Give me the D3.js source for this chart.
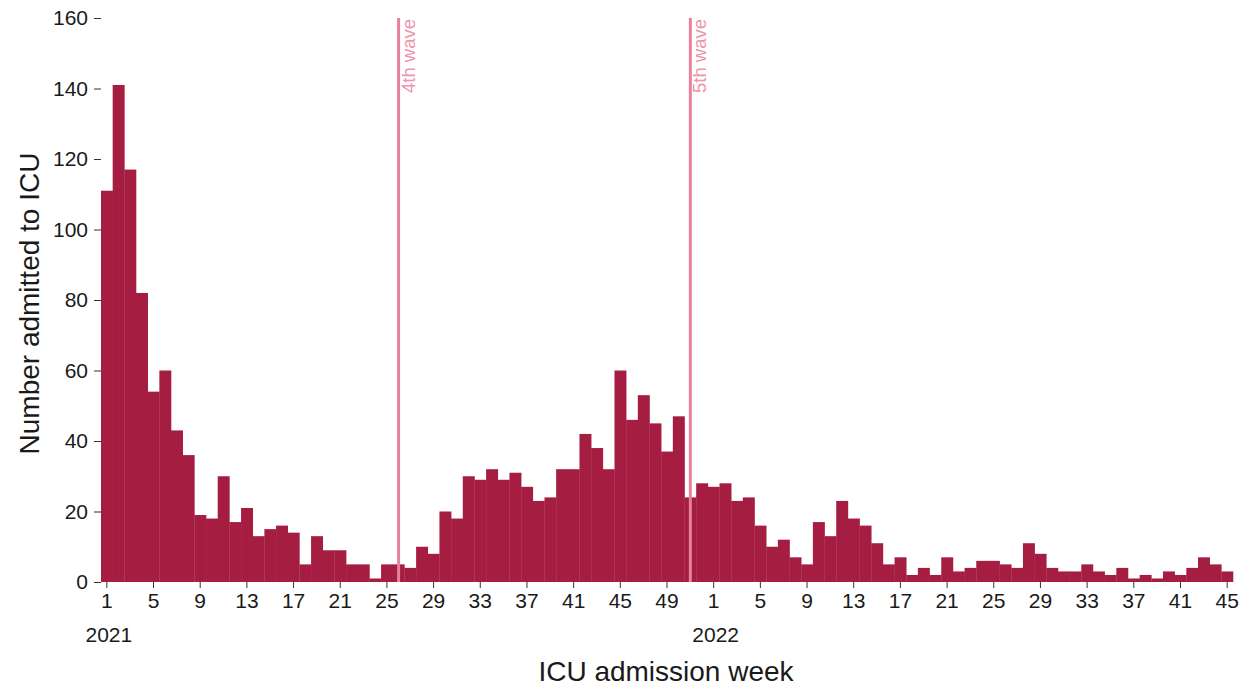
<!DOCTYPE html>
<html>
<head>
<meta charset="utf-8">
<script src="https://cdn.jsdelivr.net/npm/d3@7"></script>
<style>
  body { margin: 0; background: #fff; }
  svg { font-family: Arial, "Liberation Sans", sans-serif; }
</style>
</head>
<body>
<svg width="1249" height="688"></svg>
<script>
// weekly ICU admissions
const weeks2021 = [111,141,117,82,54,60,43,36,19,18,30,17,21,13,15,16,14,5,13,9,9,5,5,1,5,5,4,10,8,20,18,30,29,32,29,31,27,23,24,32,32,42,38,32,60,46,53,45,37,47,24,28];
const weeks2022 = [27,28,23,24,16,10,12,7,5,17,13,23,18,16,11,5,7,2,4,2,7,3,4,6,6,5,4,11,8,4,3,3,5,3,2,4,1,2,1,3,2,4,7,5,3];
const yTicks = [0,20,40,60,80,100,120,140,160];
const waves = [{year: 2021, week: 26, label: "4th wave"}, {year: 2021, week: 51, label: "5th wave"}];

const data = [];
weeks2021.forEach((v, i) => data.push({year: 2021, week: i + 1, n: v}));
weeks2022.forEach((v, i) => data.push({year: 2022, week: i + 1, n: v}));
const key = d => d.year + "-" + d.week;

const svg = d3.select("svg");
const margin = {top: 18, right: 16, left: 101, bottom: 106};
const width = +svg.attr("width");
const height = +svg.attr("height");

const xScale = d3.scaleBand()
  .domain(data.map(key))
  .range([margin.left, width - margin.right])
  .padding(0);

const yScale = d3.scaleLinear()
  .domain([0, 160])
  .range([height - margin.bottom, margin.top]);

// bars
svg.append("g").selectAll("rect").data(data)
  .enter().append("rect")
    .attr("x", d => xScale(key(d)))
    .attr("y", d => yScale(d.n))
    .attr("width", xScale.bandwidth() + 0.3)
    .attr("height", d => yScale(0) - yScale(d.n))
    .attr("fill", "#a51e42");

// wave markers
const waveG = svg.append("g");
waves.forEach(w => {
  const cx = xScale(w.year + "-" + w.week) + xScale.bandwidth() / 2;
  waveG.append("line")
    .attr("x1", cx).attr("x2", cx)
    .attr("y1", yScale(160)).attr("y2", yScale(0))
    .attr("stroke", "#e9819d")
    .attr("stroke-width", 3);
  waveG.append("text")
    .attr("transform", `translate(${cx + 16}, ${yScale(160) + 1}) rotate(-90)`)
    .attr("text-anchor", "end")
    .attr("fill", "#ee93ab")
    .attr("font-size", 18.5)
    .text(w.label);
});

// y axis
const yAxis = svg.append("g")
  .attr("transform", `translate(${margin.left}, 0)`)
  .call(d3.axisLeft(yScale).tickValues(yTicks).tickSize(7).tickPadding(6));
yAxis.select(".domain").remove();
yAxis.selectAll("text").attr("font-size", 21).attr("fill", "#1a1a1a");
yAxis.selectAll("line").attr("stroke", "#333");

// x axis
const tickKeys = data.filter(d => (d.week - 1) % 4 === 0).map(key);
const xAxis = svg.append("g")
  .attr("transform", `translate(0, ${yScale(0)})`)
  .call(d3.axisBottom(xScale).tickValues(tickKeys).tickSize(6).tickPadding(5)
    .tickFormat(k => k.split("-")[1]));
xAxis.select(".domain").remove();
xAxis.selectAll("text").attr("font-size", 21).attr("fill", "#1a1a1a");
xAxis.selectAll("line").attr("stroke", "#333");

// year labels under week 1
[2021, 2022].forEach(y => {
  svg.append("text")
    .attr("x", xScale(y + "-1") + xScale.bandwidth() / 2 + 2)
    .attr("y", 642)
    .attr("text-anchor", "middle")
    .attr("font-size", 21)
    .attr("fill", "#1a1a1a")
    .text(y);
});

// axis titles
svg.append("text")
  .attr("x", 666)
  .attr("y", 681)
  .attr("text-anchor", "middle")
  .attr("font-size", 28)
  .attr("fill", "#1a1a1a")
  .text("ICU admission week");

svg.append("text")
  .attr("transform", `translate(39, ${yScale(79)}) rotate(-90)`)
  .attr("text-anchor", "middle")
  .attr("font-size", 28)
  .attr("fill", "#1a1a1a")
  .text("Number admitted to ICU");
</script>
</body>
</html>
